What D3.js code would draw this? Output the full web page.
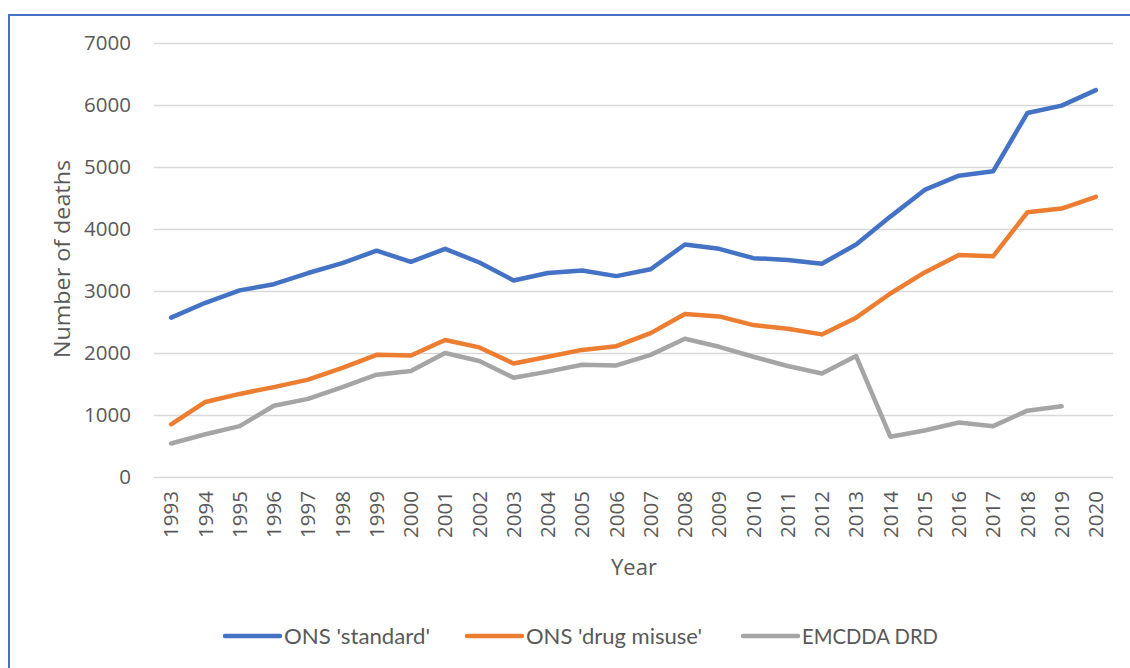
<!DOCTYPE html>
<html>
<head>
<meta charset="utf-8">
<script src="https://cdn.jsdelivr.net/npm/d3@7"></script>
<style>
  html, body { margin: 0; padding: 0; background: #fff; }
  svg { display: block; }
</style>
</head>
<body>
<svg id="chart" width="1130" height="668"></svg>
<script>
const years = ["1993","1994","1995","1996","1997","1998","1999","2000","2001","2002","2003","2004","2005","2006","2007","2008","2009","2010","2011","2012","2013","2014","2015","2016","2017","2018","2019","2020"];
const onsStandard = [2570, 2810, 3010, 3110, 3290, 3450, 3650, 3470, 3680, 3460, 3170, 3290, 3330, 3240, 3350, 3750, 3680, 3530, 3500, 3440, 3750, 4200, 4630, 4860, 4930, 5870, 5990, 6240];
const onsDrugMisuse = [850, 1210, 1340, 1450, 1570, 1760, 1970, 1960, 2210, 2090, 1830, 1940, 2050, 2110, 2320, 2630, 2590, 2450, 2390, 2300, 2570, 2960, 3300, 3580, 3560, 4270, 4330, 4520];
const emcddaDrd = [540, 690, 820, 1150, 1260, 1450, 1650, 1710, 2000, 1870, 1600, 1700, 1810, 1800, 1970, 2230, 2100, 1940, 1790, 1670, 1950, 650, 750, 880, 820, 1070, 1140, null];
const yTicks = [0, 1000, 2000, 3000, 4000, 5000, 6000, 7000];
const seriesNames = ["ONS 'standard'", "ONS 'drug misuse'", "EMCDDA DRD"];
const seriesColors = ["#4472C4", "#ED7D31", "#A5A5A5"];

const svg = d3.select("#chart");
const W = 1130, H = 668;
const margin = { left: 154, right: 17, top: 43, bottom: 191 };
const innerW = W - margin.left - margin.right;
const innerH = H - margin.top - margin.bottom;

// outer border (chart area frame)
svg.append("rect")
  .attr("x", 9).attr("y", 15)
  .attr("width", 1140).attr("height", 700)
  .attr("fill", "none").attr("stroke", "#4472C4").attr("stroke-width", 2);

const g = svg.append("g").attr("transform", `translate(${margin.left},${margin.top})`);

const x = d3.scaleBand().domain(years).range([0, innerW]);
const y = d3.scaleLinear().domain([0, 7000]).range([innerH, 0]);

// gridlines
const yAxis = d3.axisLeft(y).tickValues(yTicks).tickSize(-innerW).tickPadding(23).tickFormat(d3.format("d"));
const ya = g.append("g").call(yAxis);
ya.select(".domain").remove();
ya.selectAll(".tick line").attr("stroke", "#D9D9D9").attr("stroke-width", 1.4);
ya.selectAll(".tick text")
  .attr("fill", "#595959")
  .style("font-family", "'Open Sans', sans-serif")
  .style("font-size", "20.5px");

// x axis
const xAxis = d3.axisBottom(x).tickSize(0).tickPadding(0);
const xa = g.append("g").attr("transform", `translate(0,${innerH})`).call(xAxis);
xa.select(".domain").remove();
xa.selectAll(".tick text")
  .attr("fill", "#595959")
  .style("font-family", "'Open Sans', sans-serif")
  .style("font-size", "20.5px")
  .attr("text-anchor", "end")
  .attr("dy", "0.35em")
  .attr("transform", "translate(0,14) rotate(-90)")
  .attr("x", 0).attr("y", 0);

// axis titles
svg.append("text")
  .attr("x", 634).attr("y", 575)
  .attr("text-anchor", "middle")
  .attr("fill", "#595959")
  .style("font-family", "'Open Sans', sans-serif")
  .style("font-size", "22px")
  .text("Year");

svg.append("text")
  .attr("transform", "translate(70,259) rotate(-90)")
  .attr("text-anchor", "middle")
  .attr("fill", "#595959")
  .style("font-family", "'Open Sans', sans-serif")
  .style("font-size", "22px")
  .attr("textLength", 198)
  .attr("lengthAdjust", "spacingAndGlyphs")
  .text("Number of deaths");

// lines
const allSeries = [onsStandard, onsDrugMisuse, emcddaDrd];
const line = d3.line()
  .defined(d => d != null)
  .x((d, i) => x(years[i]) + x.bandwidth() / 2)
  .y(d => y(d));

allSeries.forEach((s, k) => {
  g.append("path")
    .datum(s)
    .attr("fill", "none")
    .attr("stroke", seriesColors[k])
    .attr("stroke-width", 4.5)
    .attr("stroke-linejoin", "round")
    .attr("stroke-linecap", "round")
    .attr("d", line);
});

// legend
const legendX = [225, 467, 743];
const legendW = [146, 176, 136];
const legend = svg.append("g");
seriesNames.forEach((name, k) => {
  const lg = legend.append("g").attr("transform", `translate(${legendX[k]},636)`);
  lg.append("line")
    .attr("x1", 0).attr("x2", 55).attr("y1", 0).attr("y2", 0)
    .attr("stroke", seriesColors[k]).attr("stroke-width", 4.5).attr("stroke-linecap", "round");
  lg.append("text")
    .attr("x", 59).attr("y", 0).attr("dy", "0.35em")
    .attr("fill", "#595959")
    .style("font-family", "Lato, sans-serif")
    .style("font-size", "22px")
    .attr("textLength", legendW[k])
    .attr("lengthAdjust", "spacingAndGlyphs")
    .text(name);
});
</script>
</body>
</html>
